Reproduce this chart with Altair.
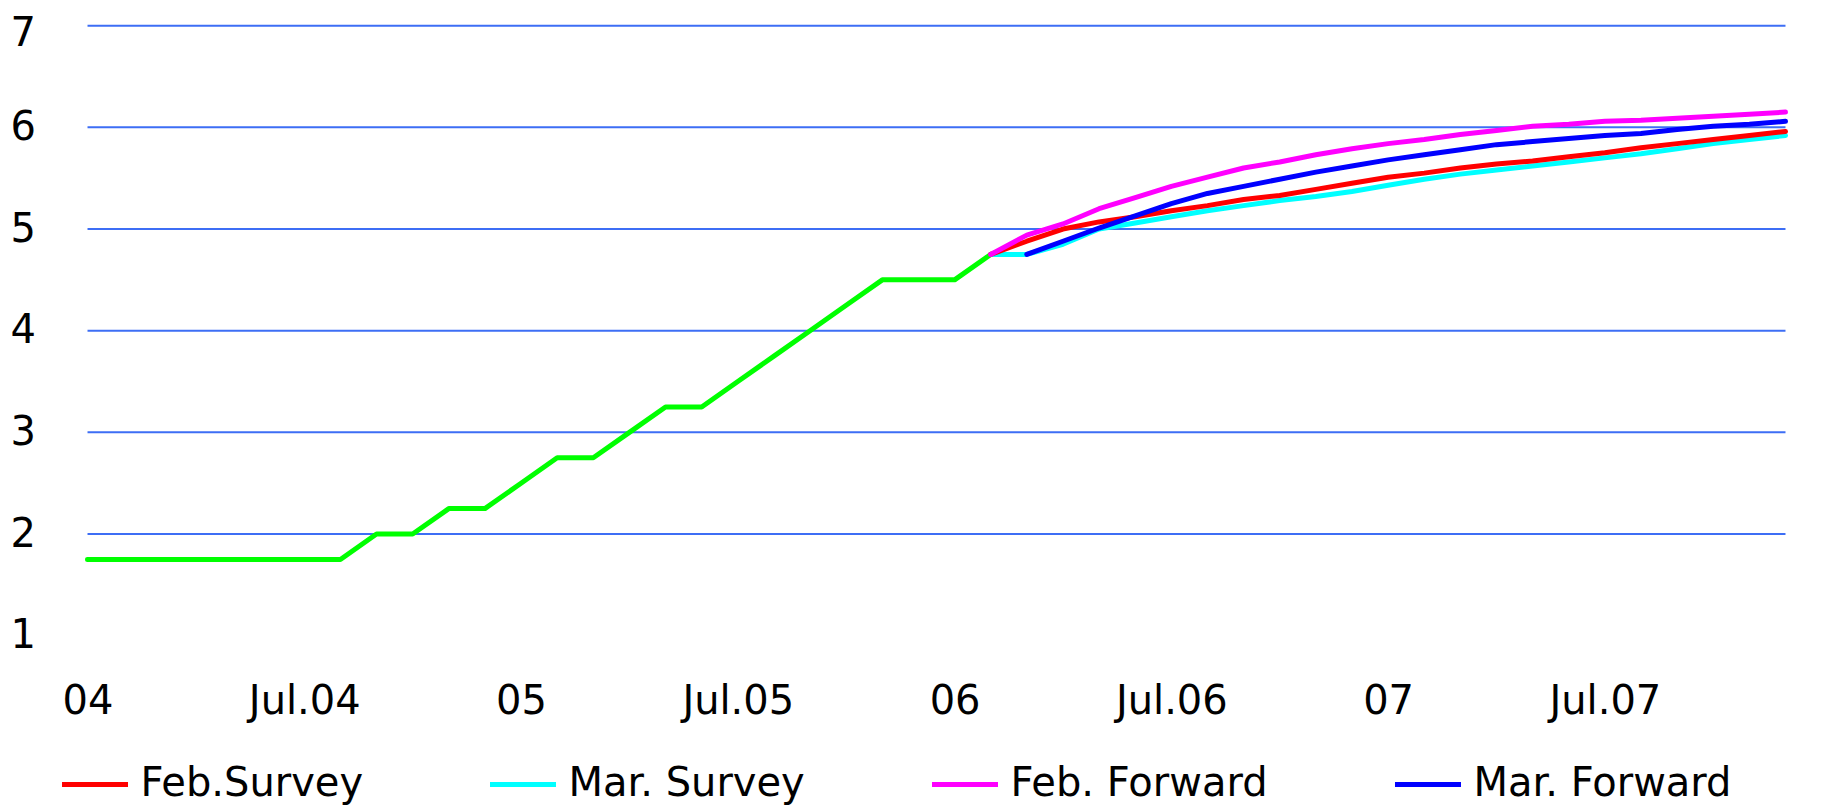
import altair as alt
import pandas as pd

# x axis: month index 0 = Jan 2004 ... 47 = Dec 2007
tick_months = [0, 6, 12, 18, 24, 30, 36, 42]
tick_labels = ["04", "Jul.04", "05", "Jul.05", "06", "Jul.06", "07", "Jul.07"]
y_ticks = [1, 2, 3, 4, 5, 6, 7]
grid_values = [2, 3, 4, 5, 6, 7]

# actual policy rate, months 0..25
actual = [1.75, 1.75, 1.75, 1.75, 1.75, 1.75, 1.75, 1.75, 2.0, 2.0, 2.25, 2.25, 2.5,
          2.75, 2.75, 3.0, 3.25, 3.25, 3.5, 3.75, 4.0, 4.25, 4.5, 4.5, 4.5, 4.75]
actual_start = 0

# Mar. Survey, months 25..47
mar_survey = [4.75, 4.75, 4.85, 5.00, 5.06, 5.12, 5.18, 5.23, 5.28, 5.32, 5.37, 5.43,
              5.49, 5.54, 5.58, 5.62, 5.66, 5.70, 5.74, 5.79, 5.84, 5.88, 5.92]
mar_survey_start = 25

# Feb.Survey, months 25..47
feb_survey = [4.75, 4.88, 5.00, 5.07, 5.12, 5.18, 5.23, 5.29, 5.33, 5.39, 5.45, 5.51,
              5.55, 5.60, 5.64, 5.67, 5.71, 5.75, 5.80, 5.84, 5.88, 5.92, 5.96]
feb_survey_start = 25

# Mar. Forward, months 26..47
mar_forward = [4.75, 4.88, 5.01, 5.13, 5.25, 5.35, 5.42, 5.49, 5.56, 5.62, 5.68, 5.73,
               5.78, 5.83, 5.86, 5.89, 5.92, 5.94, 5.98, 6.01, 6.03, 6.06]
mar_forward_start = 26

# Feb. Forward, months 25..47
feb_forward = [4.75, 4.94, 5.05, 5.20, 5.31, 5.42, 5.51, 5.60, 5.66, 5.73, 5.79, 5.84,
               5.88, 5.93, 5.97, 6.01, 6.03, 6.06, 6.07, 6.09, 6.11, 6.13, 6.15]
feb_forward_start = 25

legend_names = ["Feb.Survey", "Mar. Survey", "Feb. Forward", "Mar. Forward"]
all_names = legend_names + ["Actual"]
colors = ["#FF0000", "#00FFFF", "#FF00FF", "#0000FF", "#00FF00"]

series = [
    ("Actual", actual_start, actual),
    ("Mar. Survey", mar_survey_start, mar_survey),
    ("Feb.Survey", feb_survey_start, feb_survey),
    ("Mar. Forward", mar_forward_start, mar_forward),
    ("Feb. Forward", feb_forward_start, feb_forward),
]
rows = []
for order, (name, start, vals) in enumerate(series):
    for k, v in enumerate(vals):
        rows.append({"m": start + k, "v": v, "s": name, "o": order})
df = pd.DataFrame(rows)
grid_df = pd.DataFrame({"v": grid_values})

label_expr = "[" + ",".join("'%s'" % t for t in tick_labels) + "][datum.value / 6]"
FONT = "DejaVu Sans"

y_enc = alt.Y(
    "v:Q",
    scale=alt.Scale(domain=[1, 7], nice=False, zero=False),
    axis=alt.Axis(values=y_ticks, title=None, grid=False, domain=False, ticks=False,
                  labelFontSize=40, labelFont=FONT, labelColor="black",
                  labelPadding=52,
                  labelOffset={"condition": {"test": "datum.value == 7", "value": 8},
                               "value": 0}),
)

grid = alt.Chart(grid_df).mark_rule(color="#3D6EF5", strokeWidth=2).encode(y=y_enc)

lines = alt.Chart(df).mark_line(strokeWidth=5, strokeCap="round", strokeJoin="round").encode(
    x=alt.X(
        "m:Q",
        scale=alt.Scale(domain=[0, 47], nice=False, zero=False),
        axis=alt.Axis(values=tick_months, labelExpr=label_expr, title=None, grid=False,
                      domain=False, ticks=False, labelFontSize=40, labelFont=FONT,
                      labelColor="black", labelPadding=46, labelFlush=False,
                      labelOverlap=False),
    ),
    y=y_enc,
    color=alt.Color(
        "s:N",
        scale=alt.Scale(domain=all_names, range=colors),
        sort=all_names,
        legend=alt.Legend(values=legend_names, title=None, orient="none",
                          legendX=-28, legendY=723, direction="horizontal", columns=4,
                          symbolType="stroke", symbolSize=4356, symbolStrokeWidth=5,
                          labelFontSize=40, labelFont=FONT, labelColor="black",
                          labelOffset=10, gridAlign="each", columnPadding=116,
                          labelLimit=600),
    ),
    detail="o:N",
)

chart = alt.layer(grid, lines).properties(
    width=1698, height=610,
    padding={"left": 79.5, "top": 17.7, "right": 30, "bottom": 172},
    autosize=alt.AutoSizeParams(type="none"),
    background="white",
).configure_view(strokeWidth=0)

chart.save("out.html", embed_options={"renderer": "svg", "actions": False})
